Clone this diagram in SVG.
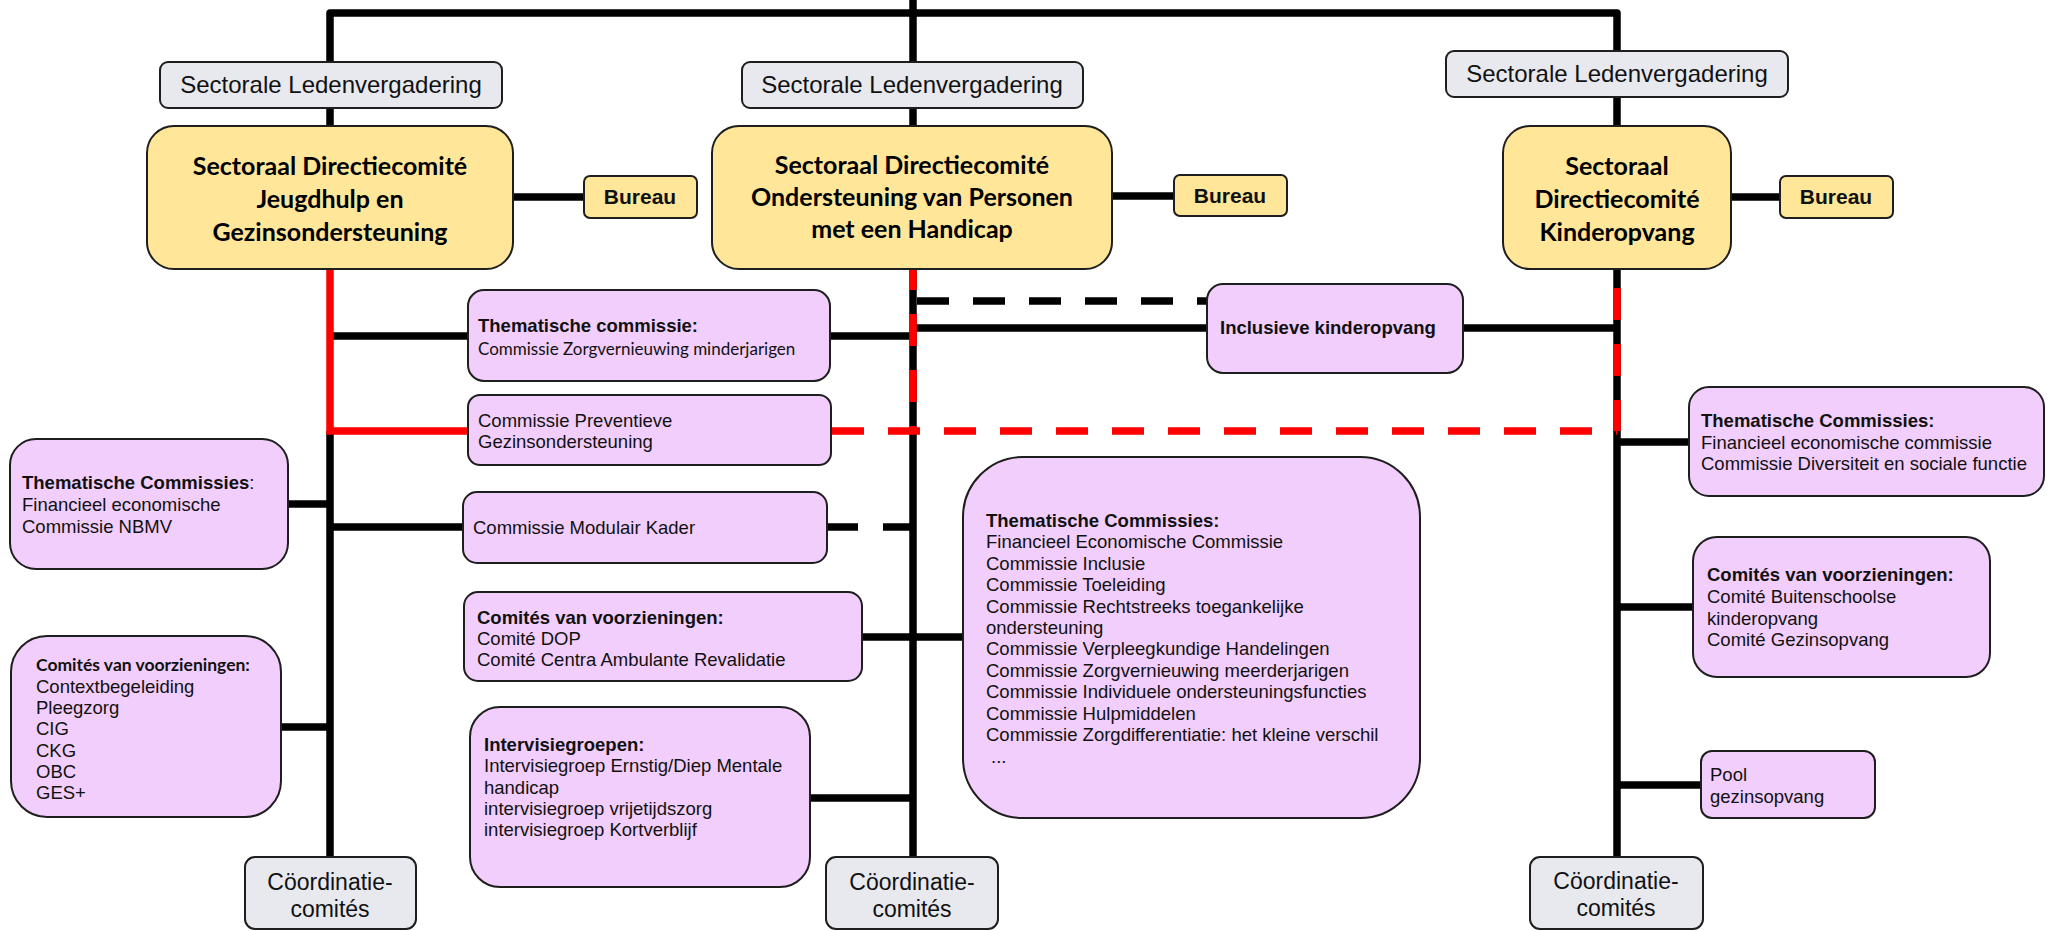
<svg xmlns="http://www.w3.org/2000/svg" width="2055" height="931" viewBox="0 0 2055 931">
<style>
.by{fill:#FFE699;stroke:#1e1e1e;stroke-width:2}
.bg{fill:#E8E9EE;stroke:#1e1e1e;stroke-width:2}
.bp{fill:#F2CEFC;stroke:#1e1e1e;stroke-width:2}
.ln{stroke:#000;stroke-width:7.5;fill:none;stroke-linejoin:round}
.rd{stroke:#FF0000;stroke-width:7.5;fill:none}
.da{stroke-dasharray:32 24}
.t{font-family:"Liberation Sans",Arial,sans-serif;font-size:18.5px;fill:#111}
.b{font-weight:bold}
.c{text-anchor:middle}
.lg{font-size:23px}
.ld{font-size:24px}
.bu{font-size:21px;font-weight:bold}
.dir{font-family:Lato,"Liberation Sans",sans-serif;font-weight:bold;font-size:25px;text-anchor:middle;fill:#000}
.cal{font-family:Lato,"Liberation Sans",sans-serif;font-size:17px}
.calb{font-family:Lato,"Liberation Sans",sans-serif;font-size:17.5px;font-weight:bold}
</style>
<g id="connectors">
<path class="ln" d="M330,62 V13 H1617 V51"/>
<path class="ln" d="M913,0 V62"/>
<path class="ln" d="M330,108 V126 M913,108 V126 M1617,97 V126"/>
<path class="ln" d="M513,197 H584 M1112,196 H1174 M1731,197 H1780"/>
<path class="ln" d="M330,431 V857"/>
<path class="ln" d="M330,336 H468 M288,504 H330 M330,527 H463 M281,727 H330"/>
<path class="ln" d="M913,269 V857"/>
<path class="ln" d="M830,336 H913 M913,328 H1207 M862,637 H963 M810,798 H913"/>
<path class="ln" d="M1617,269 V857"/>
<path class="ln" d="M1463,328 H1617 M1617,442 H1689 M1617,607 H1693 M1617,785 H1701"/>
<path class="ln da" d="M917,301 H1207"/>
<path class="ln" style="stroke-dasharray:30 25" d="M828,527 H913"/>
<path class="rd" d="M330,269 V431 H468"/>
<path class="rd da" style="stroke-dashoffset:11" d="M913,269 V431"/>
<path class="rd da" d="M1617,288 V431"/>
<path class="rd da" d="M832,431 H1617"/>
</g>
<g id="lede-left"><rect class="bg" x="160" y="62" width="342" height="46" rx="8"/><text class="t ld c" x="331" y="93">Sectorale Ledenvergadering</text></g>
<g id="lede-mid"><rect class="bg" x="742" y="62" width="341" height="46" rx="8"/><text class="t ld c" x="912" y="93">Sectorale Ledenvergadering</text></g>
<g id="lede-right"><rect class="bg" x="1446" y="51" width="342" height="46" rx="8"/><text class="t ld c" x="1617" y="82">Sectorale Ledenvergadering</text></g>
<g id="dir-left"><rect class="by" x="147" y="126" width="366" height="143" rx="27"/><text class="dir" x="330"><tspan x="330" y="175">Sectoraal Directiecomité</tspan><tspan x="330" y="208">Jeugdhulp en</tspan><tspan x="330" y="241">Gezinsondersteuning</tspan></text></g>
<g id="dir-mid"><rect class="by" x="712" y="126" width="400" height="143" rx="27"/><text class="dir" x="912"><tspan x="912" y="174">Sectoraal Directiecomité</tspan><tspan x="912" y="206">Ondersteuning van Personen</tspan><tspan x="912" y="238">met een Handicap</tspan></text></g>
<g id="dir-right"><rect class="by" x="1503" y="126" width="228" height="143" rx="27"/><text class="dir" x="1617"><tspan x="1617" y="175">Sectoraal</tspan><tspan x="1617" y="208">Directiecomité</tspan><tspan x="1617" y="241">Kinderopvang</tspan></text></g>
<g id="bureau-left"><rect class="by" x="584" y="176" width="113" height="42" rx="6"/><text class="t bu c" x="640" y="204">Bureau</text></g>
<g id="bureau-mid"><rect class="by" x="1174" y="175" width="113" height="41" rx="6"/><text class="t bu c" x="1230" y="203">Bureau</text></g>
<g id="bureau-right"><rect class="by" x="1780" y="176" width="113" height="42" rx="6"/><text class="t bu c" x="1836" y="204">Bureau</text></g>
<g id="thema-minderjarigen"><rect class="bp" x="468" y="290" width="362" height="91" rx="16"/><text class="t b" x="478" y="332">Thematische commissie:</text><text class="t cal" x="478" y="355">Commissie Zorgvernieuwing minderjarigen</text></g>
<g id="preventieve"><rect class="bp" x="468" y="395" width="363" height="70" rx="12"/><text class="t" x="478" y="427">Commissie Preventieve</text><text class="t" x="478" y="448">Gezinsondersteuning</text></g>
<g id="modulair"><rect class="bp" x="463" y="492" width="364" height="71" rx="14"/><text class="t" x="473" y="534">Commissie Modulair Kader</text></g>
<g id="inclusieve"><rect class="bp" x="1207" y="284" width="256" height="89" rx="16"/><text class="t b" x="1220" y="334">Inclusieve kinderopvang</text></g>
<g id="thema-left"><rect class="bp" x="10" y="439" width="278" height="130" rx="26"/><text class="t" x="22" y="489"><tspan class="b">Thematische Commissies</tspan>:</text><text class="t" x="22" y="511">Financieel economische</text><text class="t" x="22" y="533">Commissie NBMV</text></g>
<g id="comites-left"><rect class="bp" x="11" y="636" width="270" height="181" rx="36"/><text class="t calb" x="36" y="671">Comités van voorzieningen:</text><text class="t" x="36"><tspan x="36" y="693">Contextbegeleiding</tspan><tspan x="36" y="714">Pleegzorg</tspan><tspan x="36" y="735">CIG</tspan><tspan x="36" y="757">CKG</tspan><tspan x="36" y="778">OBC</tspan><tspan x="36" y="799">GES+</tspan></text></g>
<g id="comites-mid"><rect class="bp" x="464" y="592" width="398" height="89" rx="14"/><text class="t b" x="477" y="624">Comités van voorzieningen:</text><text class="t" x="477" y="645">Comité DOP</text><text class="t" x="477" y="666">Comité Centra Ambulante Revalidatie</text></g>
<g id="intervisie"><rect class="bp" x="470" y="707" width="340" height="180" rx="30"/><text class="t b" x="484" y="751">Intervisiegroepen:</text><text class="t" x="484"><tspan x="484" y="772">Intervisiegroep Ernstig/Diep Mentale</tspan><tspan x="484" y="794">handicap</tspan><tspan x="484" y="815">intervisiegroep vrijetijdszorg</tspan><tspan x="484" y="836">intervisiegroep Kortverblijf</tspan></text></g>
<g id="thema-mid"><rect class="bp" x="963" y="457" width="457" height="361" rx="60"/><text class="t b" x="986" y="527">Thematische Commissies:</text><text class="t" x="986"><tspan x="986" y="548">Financieel Economische Commissie</tspan><tspan x="986" y="570">Commissie Inclusie</tspan><tspan x="986" y="591">Commissie Toeleiding</tspan><tspan x="986" y="613">Commissie Rechtstreeks toegankelijke</tspan><tspan x="986" y="634">ondersteuning</tspan><tspan x="986" y="655">Commissie Verpleegkundige Handelingen</tspan><tspan x="986" y="677">Commissie Zorgvernieuwing meerderjarigen</tspan><tspan x="986" y="698">Commissie Individuele ondersteuningsfuncties</tspan><tspan x="986" y="720">Commissie Hulpmiddelen</tspan><tspan x="986" y="741">Commissie Zorgdifferentiatie: het kleine verschil</tspan><tspan x="991" y="763">...</tspan></text></g>
<g id="thema-right"><rect class="bp" x="1689" y="387" width="355" height="109" rx="20"/><text class="t b" x="1701" y="427">Thematische Commissies:</text><text class="t" x="1701" y="449">Financieel economische commissie</text><text class="t" x="1701" y="470">Commissie Diversiteit en sociale functie</text></g>
<g id="comites-right"><rect class="bp" x="1693" y="537" width="297" height="140" rx="24"/><text class="t b" x="1707" y="581">Comités van voorzieningen:</text><text class="t" x="1707"><tspan x="1707" y="603">Comité Buitenschoolse</tspan><tspan x="1707" y="625">kinderopvang</tspan><tspan x="1707" y="646">Comité Gezinsopvang</tspan></text></g>
<g id="pool"><rect class="bp" x="1701" y="751" width="174" height="67" rx="11"/><text class="t" x="1710" y="781">Pool</text><text class="t" x="1710" y="803">gezinsopvang</text></g>
<g id="coord-left"><rect class="bg" x="245" y="857" width="171" height="72" rx="10"/><text class="t lg c" x="330" y="890">Cöordinatie-</text><text class="t lg c" x="330" y="917">comités</text></g>
<g id="coord-mid"><rect class="bg" x="826" y="857" width="172" height="72" rx="10"/><text class="t lg c" x="912" y="890">Cöordinatie-</text><text class="t lg c" x="912" y="917">comités</text></g>
<g id="coord-right"><rect class="bg" x="1530" y="857" width="173" height="72" rx="10"/><text class="t lg c" x="1616" y="889">Cöordinatie-</text><text class="t lg c" x="1616" y="916">comités</text></g>
</svg>
